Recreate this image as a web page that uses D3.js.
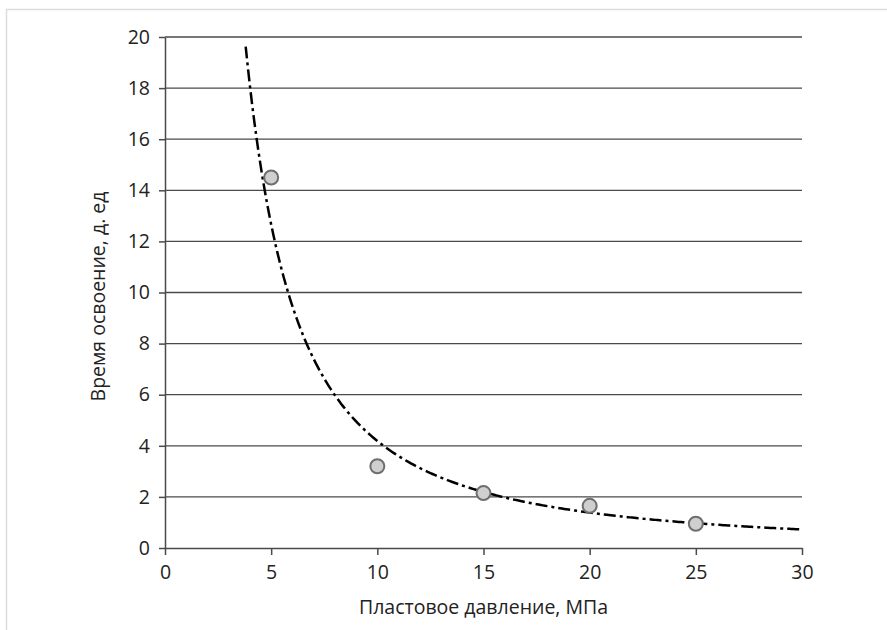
<!DOCTYPE html>
<html>
<head>
<meta charset="utf-8">
<script src="https://cdn.jsdelivr.net/npm/d3@7"></script>
<style>
  body { margin: 0; background: #fff; }
  svg text { font-family: "Open Sans", sans-serif; fill: #222; }
</style>
</head>
<body>
<div id="chart"></div>
<script>
// Data
const pressure = [5, 10, 15, 20, 25];           // МПа
const time = [14.5, 3.2, 2.15, 1.65, 0.95];     // д. ед
const xTicks = [0, 5, 10, 15, 20, 25, 30];
const yTicks = [0, 2, 4, 6, 8, 10, 12, 14, 16, 18, 20];
const trendFrom = 3.8;   // power trendline starts here
const trendTo = 30;

const width = 887, height = 630;
const margin = {left: 165, right: 85, top: 37, bottom: 82};

const svg = d3.select("#chart").append("svg")
    .attr("width", width)
    .attr("height", height);

// outer frame (only top/left visible in the reference)
svg.append("rect")
    .attr("x", 6.5).attr("y", 9.5)
    .attr("width", 900).attr("height", 700)
    .style("fill", "none")
    .style("stroke", "#dcdcdc")
    .style("stroke-width", 1.5);

const x = d3.scaleLinear().domain([0, 30]).range([margin.left, width - margin.right]);
const y = d3.scaleLinear().domain([0, 20]).range([height - margin.bottom, margin.top]);

// gridlines
svg.append("g").selectAll("line")
    .data(yTicks.filter(d => d > 0))
    .enter().append("line")
    .attr("x1", x(0)).attr("x2", x(30))
    .attr("y1", d => y(d)).attr("y2", d => y(d))
    .style("stroke", "#4a4a4a")
    .style("stroke-width", 1.3);

// axes
const xAxis = svg.append("g")
    .attr("transform", `translate(0,${y(0)})`)
    .call(d3.axisBottom(x).tickValues(xTicks).tickSize(7).tickPadding(10).tickSizeOuter(0));
const yAxis = svg.append("g")
    .attr("transform", `translate(${x(0)},0)`)
    .call(d3.axisLeft(y).tickValues(yTicks).tickSize(6).tickPadding(9).tickSizeOuter(0));

[xAxis, yAxis].forEach(g => {
    g.select(".domain").style("stroke", "#4a4a4a").style("stroke-width", 1.5);
    g.selectAll(".tick line").style("stroke", "#4a4a4a").style("stroke-width", 1.5);
    g.selectAll(".tick text")
        .style("font-size", "19.5px")
        .style("font-family", "'Open Sans', sans-serif")
        .style("fill", "#222");
});

// power trendline fitted to the points (least squares in log-log)
const lx = pressure.map(Math.log), ly = time.map(Math.log);
const mx = d3.mean(lx), my = d3.mean(ly);
const b = d3.sum(lx, (v, i) => (v - mx) * (ly[i] - my)) / d3.sum(lx, v => (v - mx) ** 2);
const a = Math.exp(my - b * mx);
const trendX = d3.range(trendFrom, trendTo + 0.001, 0.1);

svg.append("path")
    .datum(trendX)
    .attr("d", d3.line().x(d => x(d)).y(d => y(a * Math.pow(d, b))))
    .style("fill", "none")
    .style("stroke", "#000")
    .style("stroke-width", 2.5)
    .style("stroke-dasharray", "12,4,3,4");

// points
svg.append("g").selectAll("circle")
    .data(pressure)
    .enter().append("circle")
    .attr("cx", d => x(d))
    .attr("cy", (d, i) => y(time[i]))
    .attr("r", 7)
    .style("fill", "#cfcfcf")
    .style("stroke", "#6e6e6e")
    .style("stroke-width", 2);

// axis titles
svg.append("text")
    .attr("x", (x(0) + x(30)) / 2)
    .attr("y", 614)
    .attr("text-anchor", "middle")
    .style("font-size", "19.5px")
    .text("Пластовое давление, МПа");

svg.append("text")
    .attr("transform", `translate(105,${(y(0) + y(20)) / 2 + 4}) rotate(-90)`)
    .attr("text-anchor", "middle")
    .style("font-size", "19.5px")
    .text("Время освоение, д. ед");
</script>
</body>
</html>
